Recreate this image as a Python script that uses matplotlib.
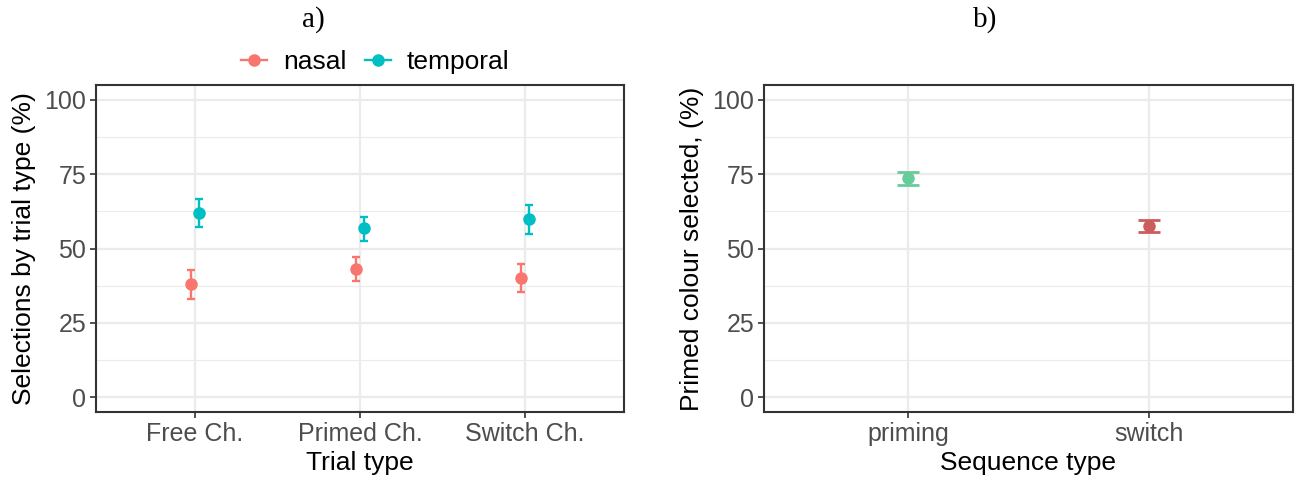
import matplotlib
matplotlib.use("Agg")
import matplotlib.pyplot as plt
from matplotlib.lines import Line2D
import numpy as np

# ---- data ----
trial_types = ["Free Ch.", "Primed Ch.", "Switch Ch."]
groups = ["nasal", "temporal"]
nasal_mean = [37.9, 43.1, 40.0]
nasal_lo = [33.1, 39.2, 35.3]
nasal_hi = [42.6, 47.3, 44.9]
temporal_mean = [61.9, 56.8, 59.9]
temporal_lo = [57.3, 52.6, 54.8]
temporal_hi = [66.6, 60.7, 64.5]

seq_types = ["priming", "switch"]
seq_mean = [73.6, 57.5]
seq_lo = [71.2, 55.5]
seq_hi = [75.9, 59.6]

y_ticks = [0, 25, 50, 75, 100]

# ---- style ----
W, H = 1298, 479
DPI = 100
plt.rcParams['font.family'] = ['Liberation Sans', 'DejaVu Sans']
group_colors = {"nasal": "#F8766D", "temporal": "#00BFC4"}
seq_colors = ["#66CC99", "#CD5C5C"]
TICK_FS = 18
TITLE_FS = 19
GRID = "#EBEBEB"
FRAME = "#333333"
TICKC = "#4D4D4D"

fig = plt.figure(figsize=(W / DPI, H / DPI), dpi=DPI)

def px_axes(x0, x1, y0, y1):
    return fig.add_axes([x0 / W, 1 - y1 / H, (x1 - x0) / W, (y1 - y0) / H])

def style(ax, ncat):
    ax.set_xlim(0.4, ncat + 0.6)
    ax.set_ylim(-5, 105)
    ax.set_yticks(y_ticks)
    ax.set_yticks([12.5, 37.5, 62.5, 87.5], minor=True)
    ax.set_xticks(np.arange(1, ncat + 1))
    ax.grid(True, which='major', color=GRID, linewidth=1.6, zorder=0)
    ax.grid(True, which='minor', axis='y', color=GRID, linewidth=0.8, zorder=0)
    ax.tick_params(axis='both', which='major', length=4, width=1.2, color=FRAME,
                   labelsize=TICK_FS, labelcolor=TICKC, pad=3)
    ax.tick_params(axis='y', which='minor', length=0)
    for s in ax.spines.values():
        s.set_color(FRAME)
        s.set_linewidth(1.5)
    ax.set_axisbelow(True)

# ---- panel a ----
ax1 = px_axes(96, 624, 85, 412)
style(ax1, len(trial_types))
xs = np.arange(1, len(trial_types) + 1)
dodge = 0.025
for g, off, m, lo, hi in [("nasal", -dodge, nasal_mean, nasal_lo, nasal_hi),
                          ("temporal", dodge, temporal_mean, temporal_lo, temporal_hi)]:
    m = np.array(m); lo = np.array(lo); hi = np.array(hi)
    ax1.errorbar(xs + off, m, yerr=[m - lo, hi - m], fmt='o', color=group_colors[g],
                 ms=8, elinewidth=1.7, capsize=3, capthick=1.7, zorder=3)
ax1.set_xticklabels(trial_types)
ax1.set_xlabel("Trial type", fontsize=TITLE_FS, labelpad=4)
ax1.set_ylabel("Selections by trial type (%)", fontsize=TITLE_FS, labelpad=6)

handles = [Line2D([0], [0], color=group_colors[g], marker='o', ms=8, lw=1.7) for g in groups]
fig.legend(handles, groups, loc='center', bbox_to_anchor=(375 / W, 1 - 62 / H),
           ncol=2, frameon=False, fontsize=19, handlelength=1.0,
           handletextpad=0.6, columnspacing=0.7)

fig.text(313 / W, 1 - 20 / H, "a)", ha='center', va='center',
         fontsize=21, family=['Liberation Serif', 'DejaVu Serif'])

# ---- panel b ----
ax2 = px_axes(764, 1293, 85, 412)
style(ax2, len(seq_types))
xs2 = np.arange(1, len(seq_types) + 1)
for i in range(len(seq_types)):
    ax2.errorbar([xs2[i]], [seq_mean[i]],
                 yerr=[[seq_mean[i] - seq_lo[i]], [seq_hi[i] - seq_mean[i]]],
                 fmt='o', color=seq_colors[i], ms=8, elinewidth=1.7,
                 capsize=8, capthick=2.0, zorder=3)
ax2.set_xticklabels(seq_types)
ax2.set_xlabel("Sequence type", fontsize=TITLE_FS, labelpad=4)
ax2.set_ylabel("Primed colour selected, (%)", fontsize=TITLE_FS, labelpad=6)

fig.text(985 / W, 1 - 20 / H, "b)", ha='center', va='center',
         fontsize=21, family=['Liberation Serif', 'DejaVu Serif'])

fig.savefig("out.png", dpi=DPI)
